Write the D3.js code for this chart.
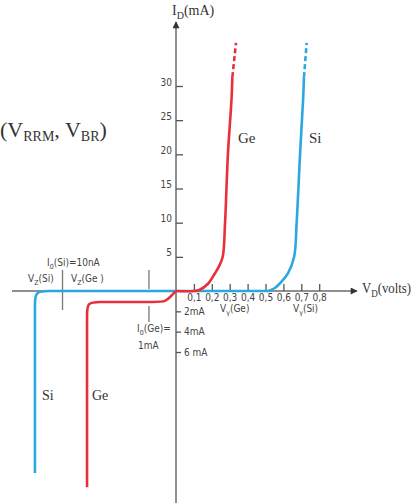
<!DOCTYPE html>
<html><head><meta charset="utf-8">
<script src="https://cdn.jsdelivr.net/npm/d3@7"></script>
<style>
html,body{margin:0;padding:0;background:#fff;}
svg{display:block;}
.tk{font-family:"Liberation Sans Narrow","DejaVu Sans Condensed","Liberation Sans",sans-serif;font-size:10px;fill:#444;}
.lb{font-family:"Liberation Serif","DejaVu Serif",serif;fill:#333;}
</style></head><body>
<svg id="c" width="414" height="503"></svg>
<script>
// ---- data ----
const xTicks = [0.1,0.2,0.3,0.4,0.5,0.6,0.7,0.8];
const yTicks = [5,10,15,20,25,30];
const revTicks = [2,4,6];
const revTickLabels = ["2mA","4mA","6 mA"];
// forward characteristics: [volts, mA]
const geForward = [[0,0],[0.1,0],[0.13,0.15],[0.18,1.1],[0.218,2.6],[0.24,3.6],[0.261,5],[0.274,10],[0.29,20],[0.31,28],[0.315,31.3]];
const geDashed = [[0.315,31.3],[0.335,36.3]];
const siForward = [[0,0],[0.5,0],[0.514,0],[0.55,0.4],[0.58,1.1],[0.626,2.6],[0.66,5],[0.674,10],[0.693,20],[0.71,28],[0.715,31.3]];
const siDashed = [[0.715,31.3],[0.73,36.3]];
// reverse characteristics: [volts (negative), reverse mA]
const geReverse = [[0,0],[-0.03,0.55],[-0.06,1.05],[-0.1,1.08],[-0.35,1.08],[-0.424,1.08],[-0.497,1.08],[-0.497,2.36],[-0.497,3.64],[-0.497,19.3]];
const siReverse = [[0,0],[-0.63,0],[-0.71,0],[-0.788,0],[-0.788,1.38],[-0.788,2.76],[-0.788,17.9]];
// marker positions
const vzMarker = -0.634;   // V_Z divider
const i0GeMarker = -0.151;

const svg = d3.select("#c");
const x = d3.scaleLinear().domain([0,0.8]).range([176,319.2]);
const yF = d3.scaleLinear().domain([0,30]).range([291,86]);
const yR = d3.scaleLinear().domain([0,6]).range([291,352]);

const RED = "#e8303a", BLUE = "#2aa9e0", GRAY = "#8f8f8f";

svg.append("defs").append("marker").attr("id","arr").attr("viewBox","0 0 10 10")
  .attr("refX",9).attr("refY",5).attr("markerWidth",9).attr("markerHeight",7)
  .attr("markerUnits","userSpaceOnUse").attr("orient","auto")
  .append("path").attr("d","M0,0L10,5L0,10Z").attr("fill","#333");

// axes lines
svg.append("line").attr("x1",x(0)).attr("x2",x(0)).attr("y1",503).attr("y2",22)
  .attr("stroke",GRAY).attr("stroke-width",2).attr("marker-end","url(#arr)");
svg.append("line").attr("x1",12).attr("x2",357).attr("y1",yF(0)).attr("y2",yF(0))
  .attr("stroke",GRAY).attr("stroke-width",2).attr("marker-end","url(#arr)");

const loc = d3.formatLocale({decimal:",",thousands:".",grouping:[3],currency:["",""]});
// x axis ticks
const gx = svg.append("g").attr("transform",`translate(0,${yF(0)})`)
  .call(d3.axisBottom(x).tickValues(xTicks).tickSizeInner(-7).tickSizeOuter(0).tickPadding(4).tickFormat(loc.format(".1f")));
gx.select(".domain").remove();
gx.selectAll("line").attr("stroke","#555").attr("stroke-width",1.3);
gx.selectAll("text").attr("class","tk").attr("font-family",null).attr("font-size",null).attr("fill",null).attr("dy","0.6em");

// y axis ticks (forward)
const gy = svg.append("g").attr("transform",`translate(${x(0)},0)`)
  .call(d3.axisLeft(yF).tickValues(yTicks).tickSizeInner(-7).tickSizeOuter(0).tickPadding(4));
gy.select(".domain").remove();
gy.selectAll("line").attr("stroke","#555").attr("stroke-width",1.3);
gy.selectAll("text").attr("class","tk").attr("font-family",null).attr("font-size",null).attr("fill",null).attr("dy","-0.1em");

// reverse current ticks
const gr = svg.append("g").attr("transform",`translate(${x(0)},0)`)
  .call(d3.axisRight(yR).tickValues(revTicks).tickSizeInner(5).tickSizeOuter(0).tickPadding(3)
    .tickFormat((d,i)=>revTickLabels[i]));
gr.select(".domain").remove();
gr.selectAll("line").attr("stroke","#555").attr("stroke-width",1.3);
gr.selectAll("text").attr("class","tk").attr("font-family",null).attr("font-size",null).attr("fill",null);

// marker lines
svg.append("line").attr("x1",x(vzMarker)).attr("x2",x(vzMarker)).attr("y1",270).attr("y2",310)
  .attr("stroke","#777").attr("stroke-width",1.3);
svg.append("line").attr("x1",x(i0GeMarker)).attr("x2",x(i0GeMarker)).attr("y1",270).attr("y2",289)
  .attr("stroke","#777").attr("stroke-width",1.3);
svg.append("line").attr("x1",x(i0GeMarker)).attr("x2",x(i0GeMarker)).attr("y1",306).attr("y2",322)
  .attr("stroke","#777").attr("stroke-width",1.3);

// curves
const lineF = d3.line().x(d=>x(d[0])).y(d=>yF(d[1])).curve(d3.curveCatmullRom.alpha(0.5));
const lineR = d3.line().x(d=>x(d[0])).y(d=>yR(d[1])).curve(d3.curveBasis);
const lineD = d3.line().x(d=>x(d[0])).y(d=>yF(d[1]));
function draw(path, col, dash){
  const p = svg.append("path").attr("d",path).attr("fill","none").attr("stroke",col)
    .attr("stroke-width",2.6).attr("stroke-linecap","butt").attr("stroke-linejoin","round");
  if(dash) p.attr("stroke-dasharray","5,3");
}
draw(lineR(siReverse), BLUE);
draw(lineF(siForward), BLUE);
draw(lineD(siDashed), BLUE, true);
draw(lineR(geReverse), RED);
draw(lineF(geForward), RED);
draw(lineD(geDashed), RED, true);

// text helpers
function sub(t, main, s, rest, size, subSize){
  t.append("tspan").text(main);
  t.append("tspan").attr("font-size",subSize).attr("dy",size*0.3).text(s);
  t.append("tspan").attr("dy",-size*0.3).text(rest);
  return t;
}
// axis titles
sub(svg.append("text").attr("class","lb").attr("x",172).attr("y",15).attr("font-size",14),"I","D","(mA)",14,10);
sub(svg.append("text").attr("class","lb").attr("x",362).attr("y",293).attr("font-size",14)
  .attr("textLength",49).attr("lengthAdjust","spacingAndGlyphs"),"V","D","(volts)",14,10);

// big label
const big = svg.append("text").attr("class","lb").attr("x",0).attr("y",137).attr("font-size",22).attr("fill","#222");
big.append("tspan").text("(V");
big.append("tspan").attr("font-size",14).attr("dy",4).text("RRM");
big.append("tspan").attr("dy",-4).text(", V");
big.append("tspan").attr("font-size",14).attr("dy",4).text("BR");
big.append("tspan").attr("dy",-4).text(")");

// curve labels
svg.append("text").attr("class","lb").attr("x",238).attr("y",143).attr("font-size",15).text("Ge");
svg.append("text").attr("class","lb").attr("x",309).attr("y",143).attr("font-size",15).text("Si");
svg.append("text").attr("class","lb").attr("x",42).attr("y",400).attr("font-size",14).text("Si");
svg.append("text").attr("class","lb").attr("x",92).attr("y",400).attr("font-size",14).text("Ge");

// small annotations
function small(xp, yp, main, s, rest){
  const t = svg.append("text").attr("class","tk").attr("x",xp).attr("y",yp);
  t.append("tspan").text(main);
  t.append("tspan").attr("font-size",7).attr("dy",3).text(s);
  t.append("tspan").attr("dy",-3).text(rest);
}
small(47,266,"I","0","(Si)=10nA");
small(28,282,"V","Z","(Si)");
small(71,282,"V","Z","(Ge )");
small(137,332,"I","0","(Ge)=");
svg.append("text").attr("class","tk").attr("x",138).attr("y",349).text("1mA");
small(220,312,"V","γ","(Ge)");
small(293,312,"V","γ","(Si)");
</script></body></html>
